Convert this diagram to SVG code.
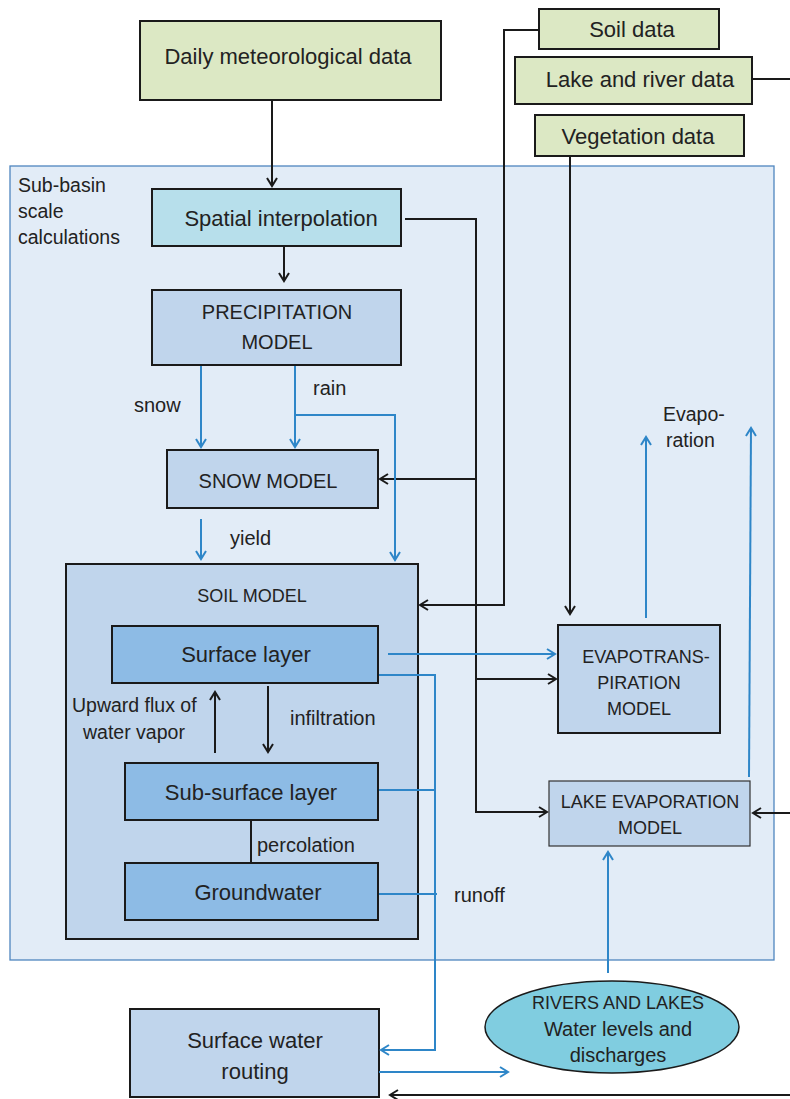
<svg xmlns="http://www.w3.org/2000/svg" width="790" height="1099" viewBox="0 0 790 1099">
<style>
text{font-family:"Liberation Sans",Arial,sans-serif;fill:#222;}
.big{font-size:22px;}
.cap{font-size:20px;}
.lab{font-size:19.5px;}
.sm{font-size:18px;}
.data{fill:#dce8c4;stroke:#1a1a1a;stroke-width:2;}
.model{fill:#c0d5ec;stroke:#1a1a1a;stroke-width:2;}
.layer{fill:#8dbbe5;stroke:#1a1a1a;stroke-width:2;}
.bk{fill:none;stroke:#1a1a1a;stroke-width:2;}
.bl{fill:none;stroke:#2e86c8;stroke-width:2;}
</style>
<defs>
<marker id="ab" markerWidth="12" markerHeight="12" refX="10" refY="6" orient="auto" markerUnits="userSpaceOnUse">
<path d="M2,1 L10,6 L2,11" fill="none" stroke="#1a1a1a" stroke-width="2"/>
</marker>
<marker id="au" markerWidth="12" markerHeight="12" refX="10" refY="6" orient="auto" markerUnits="userSpaceOnUse">
<path d="M2,1 L10,6 L2,11" fill="none" stroke="#2e86c8" stroke-width="2"/>
</marker>
</defs>

<g id="subbasin">
<rect x="10" y="166" width="764" height="794" fill="#e2ecf7" stroke="#4f86bf" stroke-width="1.3"/>
<text class="lab" x="18" y="192">Sub-basin</text>
<text class="lab" x="18" y="218">scale</text>
<text class="lab" x="18" y="244">calculations</text>
</g>

<g id="daily-met">
<rect class="data" x="140" y="21" width="301" height="79"/>
<text class="big" x="288" y="64" text-anchor="middle">Daily meteorological data</text>
</g>
<g id="soil-data">
<rect class="data" x="539" y="9" width="180" height="40"/>
<text class="big" x="632" y="37" text-anchor="middle">Soil data</text>
</g>
<g id="lake-river-data">
<rect class="data" x="515" y="57" width="237" height="47"/>
<text class="big" x="640" y="87" text-anchor="middle">Lake and river data</text>
</g>
<g id="vegetation-data">
<rect class="data" x="535" y="115" width="209" height="41"/>
<text class="big" x="638" y="144" text-anchor="middle">Vegetation data</text>
</g>

<g id="spatial-interpolation">
<rect x="152" y="189" width="249" height="57" fill="#b7dfeb" stroke="#1a1a1a" stroke-width="2"/>
<text class="big" x="281" y="226" text-anchor="middle">Spatial interpolation</text>
</g>
<g id="precipitation-model">
<rect class="model" x="152" y="290" width="249" height="75"/>
<text class="cap" x="277" y="319" text-anchor="middle">PRECIPITATION</text>
<text class="cap" x="277" y="349" text-anchor="middle">MODEL</text>
</g>
<g id="snow-model">
<rect class="model" x="167" y="450" width="211" height="58"/>
<text class="cap" x="268" y="488" font-size="21" text-anchor="middle">SNOW MODEL</text>
</g>
<g id="soil-model">
<rect class="model" x="66" y="564" width="352" height="375"/>
<text class="sm" x="252" y="602" text-anchor="middle">SOIL MODEL</text>
</g>
<g id="surface-layer">
<rect class="layer" x="112" y="626" width="266" height="57"/>
<text class="big" x="246" y="662" text-anchor="middle">Surface layer</text>
</g>
<g id="sub-surface-layer">
<rect class="layer" x="125" y="763" width="253" height="57"/>
<text class="big" x="251" y="800" text-anchor="middle">Sub-surface layer</text>
</g>
<g id="groundwater">
<rect class="layer" x="125" y="863" width="253" height="57"/>
<text class="big" x="258" y="900" text-anchor="middle">Groundwater</text>
</g>
<g id="evapotranspiration-model">
<rect class="model" x="558" y="625" width="162" height="108"/>
<text class="sm" x="646" y="663" text-anchor="middle">EVAPOTRANS-</text>
<text class="sm" x="639" y="689" text-anchor="middle">PIRATION</text>
<text class="sm" x="639" y="715" text-anchor="middle">MODEL</text>
</g>
<g id="lake-evaporation-model">
<rect x="549" y="781" width="201" height="65" fill="#c0d5ec" stroke="#333" stroke-width="1.2"/>
<text class="sm" x="650" y="808" text-anchor="middle">LAKE EVAPORATION</text>
<text class="sm" x="650" y="834" text-anchor="middle">MODEL</text>
</g>
<g id="rivers-and-lakes">
<ellipse cx="612" cy="1027" rx="127" ry="46" fill="#80cde0" stroke="#1a1a1a" stroke-width="1.5"/>
<text class="sm" x="618" y="1009" font-size="17.5" text-anchor="middle">RIVERS AND LAKES</text>
<text class="cap" x="618" y="1036" text-anchor="middle">Water levels and</text>
<text class="cap" x="618" y="1062" text-anchor="middle">discharges</text>
</g>
<g id="surface-water-routing">
<rect class="model" x="130" y="1009" width="249" height="88"/>
<text class="big" x="255" y="1048" text-anchor="middle">Surface water</text>
<text class="big" x="255" y="1079" text-anchor="middle">routing</text>
</g>

<g id="connectors">
<path class="bk" d="M272,100 V186" marker-end="url(#ab)"/>
<path class="bk" d="M284,247 V281" marker-end="url(#ab)"/>
<path class="bk" d="M405,219 H476 V812 H547" marker-end="url(#ab)"/>
<path class="bk" d="M476,479 H380" marker-end="url(#ab)"/>
<path class="bk" d="M476,679 H556" marker-end="url(#ab)"/>
<path class="bk" d="M539,30 H504 V605 H420" marker-end="url(#ab)"/>
<path class="bk" d="M570,156 V614" marker-end="url(#ab)"/>
<path class="bk" d="M752,79 H790"/>
<path class="bk" d="M790,813 H753" marker-end="url(#ab)"/>
<path class="bk" d="M790,1095 H390" marker-end="url(#ab)"/>
<path class="bk" d="M215,753 V692" marker-end="url(#ab)"/>
<path class="bk" d="M268,686 V752" marker-end="url(#ab)"/>
<path class="bk" d="M251,821 V863" stroke-width="1.5"/>
<path class="bl" d="M201,366 V447" marker-end="url(#au)"/>
<path class="bl" d="M295,366 V447" marker-end="url(#au)"/>
<path class="bl" d="M295,415 H395 V560" marker-end="url(#au)"/>
<path class="bl" d="M201,519 V559" marker-end="url(#au)"/>
<path class="bl" d="M388,654 H555" marker-end="url(#au)"/>
<path class="bl" d="M379,675 H435 V1050 H381" stroke-width="2.5" marker-end="url(#au)"/>
<path class="bl" d="M379,790 H435"/>
<path class="bl" d="M379,894 H437"/>
<path class="bl" d="M646,618 V437" marker-end="url(#au)"/>
<path class="bl" d="M749,777 L751,428" marker-end="url(#au)"/>
<path class="bl" d="M608,973 V852" marker-end="url(#au)"/>
<path class="bl" d="M379,1072 H508" marker-end="url(#au)"/>
</g>

<g id="labels">
<text class="cap" x="134" y="412">snow</text>
<text class="cap" x="313" y="395">rain</text>
<text class="cap" x="230" y="545">yield</text>
<text class="lab" x="72" y="712">Upward flux of</text>
<text class="lab" x="83" y="739">water vapor</text>
<text class="cap" x="290" y="725">infiltration</text>
<text class="cap" x="257" y="852">percolation</text>
<text class="cap" x="454" y="902">runoff</text>
<text class="lab" x="663" y="421">Evapo-</text>
<text class="lab" x="666" y="447">ration</text>
</g>
</svg>
